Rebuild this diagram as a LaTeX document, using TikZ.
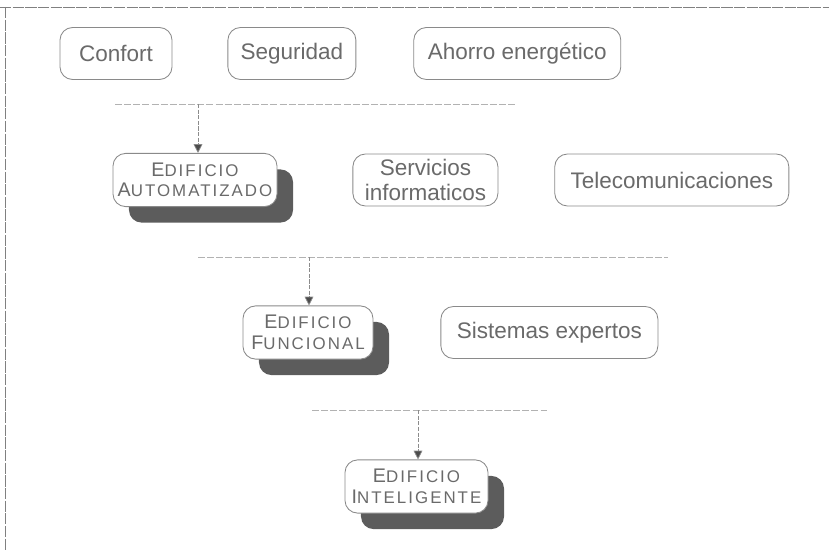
\documentclass[tikz,border=0pt]{standalone}
\usepackage{fontspec}
\setmainfont{Liberation Sans}
\usetikzlibrary{arrows.meta,positioning,shadows,calc}
\definecolor{scangray}{HTML}{8A8A8A}
\definecolor{scanink}{HTML}{6A6A6A}
\definecolor{scandark}{HTML}{5C5C5C}
\newcommand{\capsword}[2]{#1{\fontsize{12}{14}\selectfont\addfontfeature{LetterSpace=12}#2}}

\begin{document}
\begin{tikzpicture}[
        x=0.025cm, y=-0.025cm,
        pill/.style={
          draw=scangray,
          line width=0.6pt,
          rounded corners=9pt,
          fill=white,
          text=scanink,
          minimum height=1.3cm,
          inner sep=0pt,
          align=center,
          font=\fontsize{16}{18}\selectfont
        },
        stacked/.style={
          pill,
          minimum height=1.33cm,
          font=\fontsize{14}{14.5}\selectfont,
          drop shadow={shadow xshift=0.4cm, shadow yshift=-0.4cm,
            fill=scandark, opacity=1}
        },
        sepline/.style={
          draw=black!30,
          line width=0.5pt,
          dash pattern=on 5pt off 1.5pt
        },
        frameline/.style={
          draw=black!50,
          line width=0.7pt,
          dash pattern=on 8pt off 1pt
        },
        arrow/.style={
          -{Triangle[length=2.2mm,width=2.2mm,fill=black!70]},
          draw=black!45,
          line width=0.5pt,
          dash pattern=on 3pt off 1pt
        }
      ]
      \useasboundingbox (0,0) rectangle (829,551);

      % page frame
      \draw[frameline] (0,7) -- (829,7);
      \draw[frameline] (5,7) -- (5,551);

      % objetivos
      \node[pill, minimum width=2.8cm] (confort) at (116,53.5) {Confort};
      \node[pill, minimum width=3.2cm, right=1.375cm of confort] (seguridad) {Seguridad};
      \node[pill, minimum width=5.175cm, right=1.425cm of seguridad] (ahorro) {Ahorro energético};

      % nivel automatizado
      \node[stacked, minimum width=4.1cm] (auto) at (195,180) {
        \capsword{E}{DIFICIO}\\ \capsword{A}{UTOMATIZADO}
      };
      \node[pill, minimum width=3.625cm, right=1.875cm of auto] (servicios) {
        Servicios\\ informaticos
      };
      \node[pill, minimum width=5.85cm, right=1.4cm of servicios] (telecom) {Telecomunicaciones};

      % nivel funcional
      \node[stacked, minimum width=3.25cm] (funcional) at (308,332.5) {
        \capsword{E}{DIFICIO}\\ \capsword{F}{UNCIONAL}
      };
      \node[pill, minimum width=5.425cm, right=1.675cm of funcional] (expertos) {Sistemas expertos};

      % nivel inteligente
      \node[stacked, minimum width=3.575cm] (inteligente) at (416.5,486.5) {
        \capsword{E}{DIFICIO}\\ \capsword{I}{NTELIGENTE}
      };

      % separadores
      \coordinate (sep1w) at (115,104);
      \coordinate (sep1e) at (515,104);
      \coordinate (sep2w) at (198,257);
      \coordinate (sep2e) at (668,257);
      \coordinate (sep3w) at (312,410);
      \coordinate (sep3e) at (547,410);
      \draw[sepline] (sep1w) -- (sep1e);
      \draw[sepline] (sep2w) -- (sep2e);
      \draw[sepline] (sep3w) -- (sep3e);

      \coordinate (tap1) at (198,104);
      \coordinate (tap2) at (309,257);
      \coordinate (tap3) at (418,410);
      \draw[arrow] (tap1) -- (tap1 |- auto.north);
      \draw[arrow] (tap2) -- (tap2 |- funcional.north);
      \draw[arrow] (tap3) -- (tap3 |- inteligente.north);

      \end{tikzpicture}
\end{document}
